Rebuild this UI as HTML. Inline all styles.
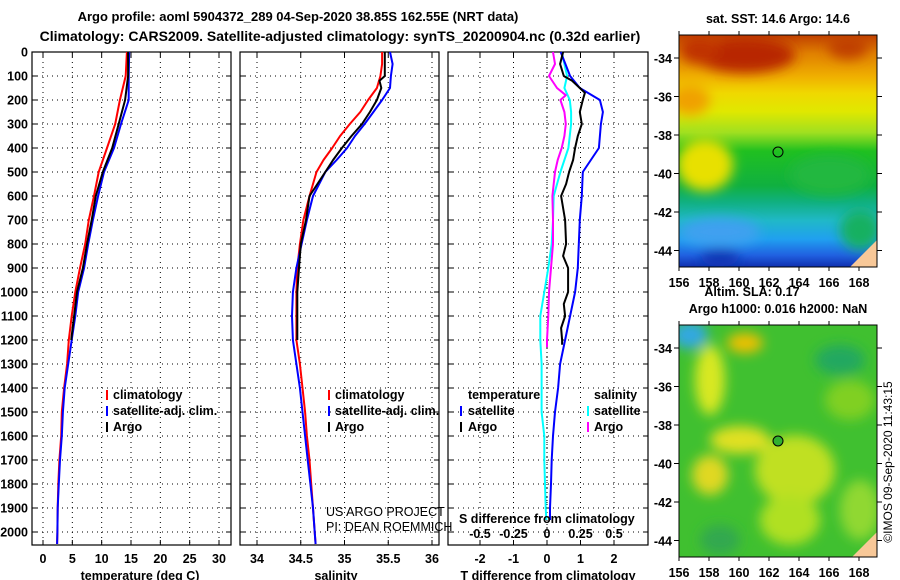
<!DOCTYPE html>
<html><head><meta charset="utf-8">
<style>
body{margin:0;background:#fff;}
svg{display:block;font-family:"Liberation Sans",sans-serif;}
.b{font-weight:bold;font-size:12.5px;}
.t{font-weight:bold;font-size:14px;}
</style></head>
<body>
<svg id="chart" width="900" height="580" viewBox="0 0 900 580" xmlns="http://www.w3.org/2000/svg">
<defs>
<linearGradient id="sstg" x1="0" y1="0" x2="0" y2="1">
<stop offset="0" stop-color="#c04000"/><stop offset="0.08" stop-color="#e08000"/>
<stop offset="0.18" stop-color="#f0b000"/><stop offset="0.25" stop-color="#f0d800"/>
<stop offset="0.33" stop-color="#e0e800"/><stop offset="0.42" stop-color="#a0e020"/>
<stop offset="0.5" stop-color="#20c020"/><stop offset="0.65" stop-color="#10b040"/>
<stop offset="0.72" stop-color="#10b080"/><stop offset="0.8" stop-color="#20b8c8"/>
<stop offset="0.88" stop-color="#20a0f0"/><stop offset="0.95" stop-color="#2060e0"/>
<stop offset="1" stop-color="#1030b0"/></linearGradient>
<filter id="blur" x="-50%" y="-50%" width="200%" height="200%"><feGaussianBlur stdDeviation="6"/></filter>
<clipPath id="c1"><rect x="679" y="35" width="198" height="232"/></clipPath>
<clipPath id="c2"><rect x="679" y="325" width="198" height="232"/></clipPath>
</defs>
<text class="t" x="298" y="21" text-anchor="middle" style="font-size:13px">Argo profile: aoml 5904372_289 04-Sep-2020 38.85S 162.55E (NRT data)</text>
<text class="t" x="340" y="41" text-anchor="middle">Climatology: CARS2009. Satellite-adjusted climatology: synTS_20200904.nc (0.32d earlier)</text>

<g id="grids"></g>
<g id="lines"></g>

<g class="b">
<rect x="106" y="390" width="2" height="10" fill="#f00"/><text x="113" y="399">climatology</text>
<rect x="106" y="406" width="2" height="10" fill="#00f"/><text x="113" y="415">satellite-adj. clim.</text>
<rect x="106" y="422" width="2" height="10" fill="#000"/><text x="113" y="431">Argo</text>
</g>
<g class="b">
<rect x="328" y="390" width="2" height="10" fill="#f00"/><text x="335" y="399">climatology</text>
<rect x="328" y="406" width="2" height="10" fill="#00f"/><text x="335" y="415">satellite-adj. clim.</text>
<rect x="328" y="422" width="2" height="10" fill="#000"/><text x="335" y="431">Argo</text>
</g>
<g class="b">
<text x="468" y="399">temperature</text>
<rect x="460" y="406" width="2" height="10" fill="#00f"/><text x="468" y="415">satellite</text>
<rect x="460" y="422" width="2" height="10" fill="#000"/><text x="468" y="431">Argo</text>
<text x="594" y="399">salinity</text>
<rect x="587" y="406" width="2" height="10" fill="#0ff"/><text x="594" y="415">satellite</text>
<rect x="587" y="422" width="2" height="10" fill="#f0f"/><text x="594" y="431">Argo</text>
</g>
<g font-size="12.5">
<text x="326" y="516">US ARGO PROJECT</text>
<text x="326" y="531">PI: DEAN ROEMMICH</text>
</g>
<text class="b" x="459" y="523">S difference from climatology</text>
<text class="b" x="140" y="580" text-anchor="middle">temperature (deg C)</text>
<text class="b" x="336" y="580" text-anchor="middle">salinity</text>
<text class="b" x="548" y="580" text-anchor="middle">T difference from climatology</text>

<g clip-path="url(#c1)">
<rect x="679" y="35" width="198" height="232" fill="url(#sstg)"/>
<g filter="url(#blur)">
<ellipse cx="745" cy="55" rx="50" ry="18" fill="#b82800"/>
<ellipse cx="700" cy="50" rx="20" ry="14" fill="#c03000"/>
<ellipse cx="848" cy="47" rx="20" ry="12" fill="#c04000"/>
<ellipse cx="705" cy="165" rx="28" ry="26" fill="#e8e000"/>
<ellipse cx="690" cy="100" rx="20" ry="15" fill="#f0a000"/>
<ellipse cx="720" cy="232" rx="40" ry="14" fill="#40a0f0"/>
<ellipse cx="720" cy="258" rx="20" ry="8" fill="#1030b0"/>
<ellipse cx="860" cy="230" rx="20" ry="20" fill="#18b060"/>
<ellipse cx="830" cy="175" rx="40" ry="20" fill="#20b840"/>
</g>
<polygon points="850,267 877,240 877,267" fill="#f8c898"/>
<circle cx="778" cy="152" r="5" fill="none" stroke="#000" stroke-width="1"/>
</g>
<rect x="679" y="35" width="198" height="232" fill="none" stroke="#000"/>
<text class="b" x="778" y="23" text-anchor="middle">sat. SST: 14.6 Argo: 14.6</text>

<g clip-path="url(#c2)">
<rect x="679" y="325" width="198" height="232" fill="#40c030"/>
<g filter="url(#blur)">
<ellipse cx="690" cy="335" rx="18" ry="14" fill="#30a8e0"/>
<ellipse cx="745" cy="343" rx="18" ry="10" fill="#f0c000"/>
<ellipse cx="710" cy="380" rx="15" ry="35" fill="#d8e820"/>
<ellipse cx="740" cy="440" rx="30" ry="14" fill="#e0e020"/>
<ellipse cx="710" cy="475" rx="18" ry="20" fill="#e0d820"/>
<ellipse cx="795" cy="470" rx="40" ry="35" fill="#c0e020"/>
<ellipse cx="790" cy="520" rx="30" ry="25" fill="#b0e020"/>
<ellipse cx="850" cy="400" rx="25" ry="20" fill="#80d020"/>
<ellipse cx="840" cy="360" rx="25" ry="15" fill="#20a860"/>
<ellipse cx="720" cy="540" rx="20" ry="15" fill="#30a850"/>
<ellipse cx="860" cy="510" rx="20" ry="30" fill="#90d830"/>
</g>
<polygon points="852,557 877,532 877,557" fill="#f8c898"/>
<circle cx="778" cy="441" r="5" fill="#30b030" stroke="#000" stroke-width="1"/>
</g>
<rect x="679" y="325" width="198" height="232" fill="none" stroke="#000"/>
<text class="b" x="752" y="296" text-anchor="middle">Altim. SLA: 0.17</text>
<text class="b" x="778" y="313" text-anchor="middle">Argo h1000: 0.016 h2000: NaN</text>
<text font-size="12" x="0" y="0" transform="translate(892,462) rotate(-90)" text-anchor="middle">©IMOS 09-Sep-2020 11:43:15</text>
<g id="mapaxes"></g>
</svg>
<script>
var depthT=[0,100,200,300,400,500,600,700,800,900,1000,1100,1200,1300,1400,1500,1600,1700,1800,1900,2000,2050];
var tempClim=[14.3,14.1,13.1,12.3,10.9,9.5,8.7,7.8,7.2,6.3,5.5,4.9,4.4,4.1,3.6,3.2,3.1,2.8,2.6,2.5,2.45,2.4];
var tempSat=[14.7,14.6,14.6,13.3,12.1,10.4,9.4,8.5,7.7,7.0,6.0,5.5,4.9,4.3,3.7,3.4,3.2,2.9,2.7,2.5,2.45,2.4];
var depthA=[0,100,200,300,400,500,600,700,800,900,1000,1100,1200];
var tempArgo=[14.5,14.5,14.0,12.9,11.8,10.2,9.0,8.3,7.5,6.8,5.8,5.3,4.8];
var depthS=[0,50,100,150,200,250,300,350,400,450,500,600,700,800,900,1000,1100,1200,1300,1400,1500,1600,1700,1800,1900,2000,2050];
var salClim=[35.43,35.43,35.41,35.37,35.27,35.18,35.06,34.95,34.86,34.76,34.68,34.6,34.53,34.49,34.46,34.45,34.45,34.45,34.49,34.52,34.55,34.57,34.6,34.62,34.64,34.66,34.67];
var salSat=[35.52,35.55,35.53,35.52,35.43,35.33,35.23,35.12,35.03,34.91,34.78,34.64,34.57,34.51,34.45,34.41,34.4,34.41,34.45,34.49,34.52,34.55,34.58,34.61,34.64,34.66,34.67];
var depthSA=[0,50,100,120,150,200,250,300,350,400,450,500,600,700,800,900,1000,1100,1200];
var salArgo=[35.46,35.46,35.46,35.40,35.42,35.37,35.29,35.2,35.08,34.97,34.87,34.78,34.6,34.56,34.5,34.48,34.46,34.46,34.46];
var depthD=[0,100,150,200,250,300,400,500,600,700,800,900,1000,1100,1200,1300,1400,1500,1600,1700,1800,1900,1950];
var dTsat=[0.41,0.69,0.98,1.58,1.67,1.61,1.55,1.07,1.04,0.98,0.95,0.92,0.84,0.69,0.54,0.39,0.33,0.24,0.18,0.14,0.12,0.09,0.09];
var dSsat=[0.11,0.15,0.13,0.17,0.18,0.18,0.16,0.1,0.05,0.045,0.035,0.01,-0.02,-0.05,-0.05,-0.04,-0.04,-0.04,-0.02,-0.02,-0.015,-0.01,-0.005];
var depthDA=[0,50,100,120,150,170,200,250,300,350,400,450,500,550,600,650,700,800,850,900,1000,1050,1100,1150,1200,1220];
var dTargo=[0.48,0.39,0.5,0.75,0.98,1.13,1.07,0.98,1.04,0.92,0.84,0.78,0.66,0.57,0.42,0.48,0.54,0.57,0.48,0.63,0.63,0.5,0.54,0.42,0.45,0.45];
var depthDSA=[0,50,100,150,180,200,250,300,350,400,450,500,600,700,800,900,1000,1100,1200,1230];
var dSargo=[0.045,0.06,0.015,0.075,0.14,0.1,0.13,0.14,0.13,0.11,0.08,0.06,0.04,0.045,0.045,0.03,0.015,0.01,0,0];
var tTicks=[0,5,10,15,20,25,30], sTicks=[34,34.5,35,35.5,36], dtTicks=[-2,-1,0,1,2];
var dsTickLabels=["-0.5","-0.25","0","0.25","0.5"];
var depthTicks=[0,100,200,300,400,500,600,700,800,900,1000,1100,1200,1300,1400,1500,1600,1700,1800,1900,2000];
var latTicks=[-34,-36,-38,-40,-42,-44], lonTicks=[156,158,160,162,164,166,168];

(function(){
var NS="http://www.w3.org/2000/svg";
function yD(d){return 52+d*0.24;}
function xT(t){return 43+t*5.867;}
function xS(s){return 257+(s-34)*87.5;}
function xDT(t){return 547+t*33.5;}
function xDS(s){return 547+s*134;}
function mk(tag,at,parent){var e=document.createElementNS(NS,tag);for(var k in at)e.setAttribute(k,at[k]);parent.appendChild(e);return e;}
var G=document.getElementById('grids'), L=document.getElementById('lines'), M=document.getElementById('mapaxes');
var panels=[{x0:32,x1:231,ticks:tTicks,fx:xT,labels:tTicks.map(String)},{x0:240,x1:439,ticks:sTicks,fx:xS,labels:sTicks.map(String)},{x0:448,x1:648,ticks:dtTicks,fx:xDT,labels:dtTicks.map(String)}];
var pTop=52,pBot=545;
panels.forEach(function(p){
  depthTicks.forEach(function(d){
    var gl=mk('line',{x1:p.x0,x2:p.x1,y1:yD(d),y2:yD(d),stroke:'#000','stroke-dasharray':'1,4','stroke-width':1},G);
    
    
    mk('line',{x1:p.x0,x2:p.x0+5,y1:yD(d),y2:yD(d),stroke:'#000'},G);
    mk('line',{x1:p.x1-5,x2:p.x1,y1:yD(d),y2:yD(d),stroke:'#000'},G);
  });
  p.ticks.forEach(function(t,j){
    var x=p.fx(t);
    var vl=mk('line',{x1:x,x2:x,y1:pTop,y2:pBot,stroke:'#000','stroke-dasharray':'1,4','stroke-width':1},G);
    
    
    mk('line',{x1:x,x2:x,y1:pBot-5,y2:pBot,stroke:'#000'},G);
    mk('line',{x1:x,x2:x,y1:pTop,y2:pTop+5,stroke:'#000'},G);
    var tl=mk('text',{x:x,y:563,'text-anchor':'middle','class':'b'},G);
    tl.textContent=p.labels[j];
    
    
  });
  var fr=mk('rect',{x:p.x0,y:pTop,width:p.x1-p.x0,height:pBot-pTop,fill:'none',stroke:'#000','stroke-width':1.2},G);
  
  
});
depthTicks.forEach(function(d){
  var t=mk('text',{x:28,y:yD(d)+4.5,'text-anchor':'end','class':'b'},G);
  t.textContent=String(d);
  
  
});
dtTicks.forEach(function(t,j){
  var e=mk('text',{x:xDT(t),y:538,'text-anchor':'middle','class':'b'},G);
  e.textContent=dsTickLabels[j];
  
  
});
function stair(ds,vs,fx,col,name){
  var pts=[];
  for(var i=0;i<ds.length;i++){pts.push(fx(vs[i]).toFixed(1)+','+yD(ds[i]).toFixed(1));}
  var pl=mk('polyline',{points:pts.join(' '),fill:'none',stroke:col,'stroke-width':2,'stroke-linejoin':'round'},L);
  
  
}
mk('line',{x1:547,x2:547,y1:pTop,y2:pBot,stroke:'#000','stroke-dasharray':'1,3'},L);
stair(depthT,tempClim,xT,'#f00','temp-climatology-line');
stair(depthT,tempSat,xT,'#00f','temp-satellite-line');
stair(depthA,tempArgo,xT,'#000','temp-argo-line');
stair(depthS,salClim,xS,'#f00','sal-climatology-line');
stair(depthS,salSat,xS,'#00f','sal-satellite-line');
stair(depthSA,salArgo,xS,'#000','sal-argo-line');
stair(depthD,dSsat,xDS,'#0ff','s-diff-satellite-line');
stair(depthDSA,dSargo,xDS,'#f0f','s-diff-argo-line');
stair(depthD,dTsat,xDT,'#00f','t-diff-satellite-line');
stair(depthDA,dTargo,xDT,'#000','t-diff-argo-line');
function latY(lat,y0){return y0+(-34-lat)*19.25;}
function lonX(lon){return 679+(lon-156)*15;}
[[58,283,35],[348,573,325]].forEach(function(m){
  var y34=m[0], ylab=m[1], yT=m[2], yB=yT+232;
  latTicks.forEach(function(la){
    var y=latY(la,y34);
    mk('line',{x1:674,x2:679,y1:y,y2:y,stroke:'#000'},M);
    mk('line',{x1:877,x2:882,y1:y,y2:y,stroke:'#000'},M);
    var t=mk('text',{x:672,y:y+5,'text-anchor':'end','class':'b'},M);
    t.textContent=String(la);
    
    
  });
  lonTicks.forEach(function(lo){
    var x=lonX(lo);
    mk('line',{x1:x,x2:x,y1:yT-4,y2:yT,stroke:'#000'},M);
    mk('line',{x1:x,x2:x,y1:yB,y2:yB+4,stroke:'#000'},M);
    var t=mk('text',{x:x,y:ylab+4,'text-anchor':'middle','class':'b'},M);
    t.textContent=String(lo);
    
    
  });
});
})();
</script>
</body></html>
